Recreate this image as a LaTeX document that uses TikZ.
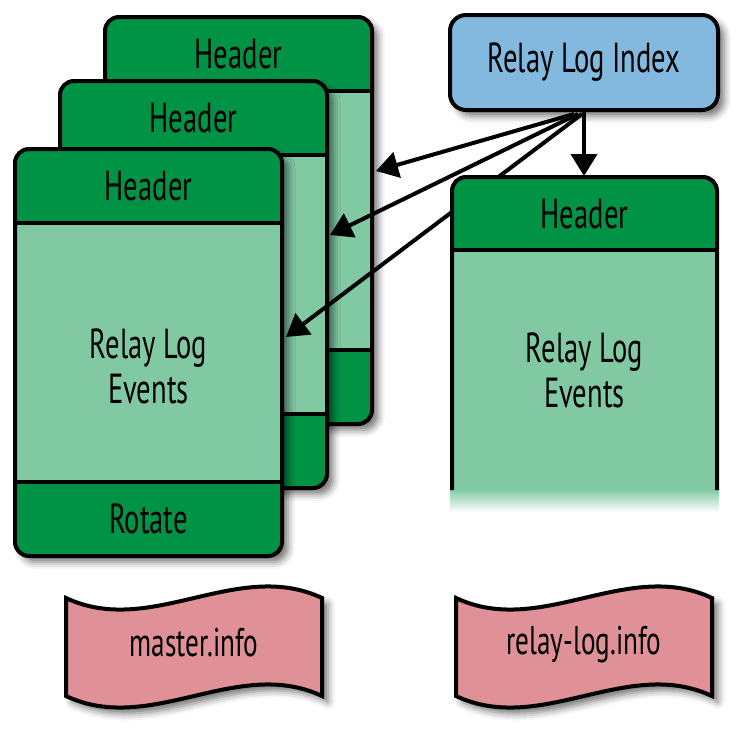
\documentclass[tikz,border=0pt]{standalone}
\usepackage{fontspec}
\setmainfont{PT Sans}[FakeStretch=0.68]
\usetikzlibrary{arrows.meta,shadows.blur}
\definecolor{dg}{RGB}{0,146,69}
\definecolor{lg}{RGB}{128,201,163}
\definecolor{idxblue}{RGB}{131,185,222}
\definecolor{wavepink}{RGB}{224,145,151}
\tikzset{
  bshadow/.style={blur shadow={shadow xshift=6pt,shadow yshift=-6pt,shadow blur radius=7pt,shadow opacity=55}},
  lbl/.style={font=\fontsize{42}{45}\selectfont, align=center, inner sep=0pt},
  wlbl/.style={font=\fontsize{40}{45}\selectfont, inner sep=0pt},
  arr/.style={-{Triangle[length=22pt,width=26pt]}, line width=4pt},
  idxbox/.style={draw, fill=idxblue, rounded corners=16pt, minimum width=268pt, minimum height=95pt, line width=4pt, bshadow, lbl},
}
\newcommand\LogBox[3]{%
  \begin{scope}[shift={(#1,#2)}]
    \fill[lg, rounded corners=14pt, bshadow] (0,0) rectangle (267,407);
    \begin{scope}
      \clip[rounded corners=14pt] (0,0) rectangle (267,407);
      \fill[dg] (0,0) rectangle (267,74);
      \fill[dg] (0,333) rectangle (267,407);
    \end{scope}
    \draw[rounded corners=14pt] (0,0) rectangle (267,407);
    \draw (0,74) -- (267,74);
    \draw (0,333) -- (267,333);
    \node[lbl] (#3h) at (133.5,37) {Header};
  \end{scope}}
\newcommand\WavePath[1]{%
  (#1,598) .. controls ++(85,40) and ++(-85,-40) .. ++(256,0)
  -- ++(0,98) .. controls ++(-85,-40) and ++(85,40) .. ++(-256,0) -- cycle}
\begin{document}
\begin{tikzpicture}[x=1pt,y=-1pt,line width=4pt]
\useasboundingbox (0,0) rectangle (746,734);
% stacked relay log files
\LogBox{105}{17}{c}
\LogBox{60}{81}{b}
\LogBox{15}{149}{a}
\node[lbl] (aev) at (148.5,366) {Relay Log\\Events};
\node[lbl] (arot) at (148.5,519) {Rotate};
% index
\node[idxbox] (idx) at (584,62.5) {Relay Log Index};
\coordinate (s1) at (574,114);
\coordinate (s2) at (578,114);
\coordinate (s3) at (582,114);
\coordinate (t1) at (376,171);
\coordinate (t2) at (330,235);
\coordinate (t3) at (286,337);
\draw[arr] (s1) -- (t1);
\draw[arr] (s2) -- (t2);
\draw[arr] (s3) -- (t3);
% current relay log
\fill[lg] (452,240) rectangle (717,490);
\shade[top color=lg, bottom color=white] (450,489) rectangle (719,512);
\begin{scope}
  \clip[rounded corners=14pt] (452,177) rectangle (717,300);
  \fill[dg] (452,177) rectangle (717,250);
\end{scope}
\draw[rounded corners=14pt] (452,490) -- (452,177) -- (717,177) -- (717,490);
\draw (452,250) -- (717,250);
\node[lbl] (rh) at (584.5,214) {Header};
\node[lbl] (rev) at (584.5,370) {Relay Log\\Events};
\coordinate (rtop) at (584,176);
\draw[arr] (idx.south) -- (rtop);
% info files
\filldraw[fill=wavepink, bshadow] \WavePath{66};
\filldraw[fill=wavepink, bshadow] \WavePath{456};
\node[wlbl] (mi) at (194,643) {master.info};
\node[wlbl] (ri) at (584,645) {relay-log.info};
\end{tikzpicture}
\end{document}
